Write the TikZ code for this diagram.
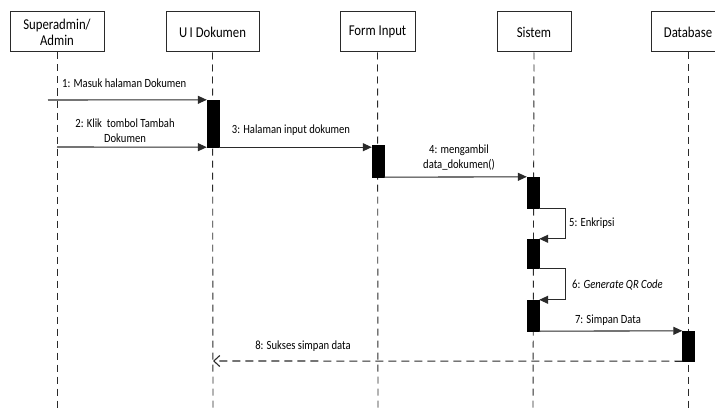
\documentclass[tikz,border=0pt]{standalone}
\usepackage{fontspec}
\setmainfont{Carlito}
\newfontfamily\cond[FakeStretch=0.85]{Carlito}
\usetikzlibrary{arrows.meta}
\definecolor{ln}{HTML}{2A2A2A}
\tikzset{
  obj/.style={draw=ln, line width=1pt, fill=white, minimum width=#1, minimum height=40pt, inner sep=0pt, font=\cond\fontsize{15}{16}\selectfont, align=center},
  life/.style={draw=ln, line width=0.9pt, dash pattern=on 7pt off 5pt},
  act/.style={draw=black, fill=black, minimum width=12pt, minimum height=#1, inner sep=0pt},
  msg/.style={draw=ln, line width=1.1pt, -{Triangle[length=9pt,width=8pt]}},
  ret/.style={draw=ln, line width=1.1pt, dash pattern=on 8pt off 5pt, -{Straight Barb[length=6pt,width=11pt]}},
  lbl/.style={font=\cond\fontsize{12.5}{14.5}\selectfont, inner sep=0pt, align=center},
}
\begin{document}
\begin{tikzpicture}[x=1pt,y=-1pt]
\useasboundingbox (0,0) rectangle (715,412);
\clip (0,0) rectangle (715,412);
% objects
\node[obj=94pt] (o1) at (57,32) {Superadmin/\\Admin};
\node[obj=93pt] (o2) at (212.5,32) {U\,I Dokumen};
\node[obj=75pt] (o3) at (377.5,32) {Form Input};
\node[obj=74pt] (o4) at (534,32) {Sistem};
\node[obj=74pt] (o5) at (688,32) {Database};
% lifeline ends
\coordinate (e1) at (57,412);
\coordinate (e2) at (213,412);
\coordinate (e3) at (378,412);
\coordinate (e4) at (533,412);
\coordinate (e5) at (688,412);
\draw[life] (o1.south) -- (e1);
\draw[life] (o2.south) -- (e2);
\draw[life] (o3.south) -- (e3);
\draw[life] (o4.south) -- (e4);
\draw[life] (o5.south) -- (e5);
% activations
\node[act=47pt] (aUI) at (213,123.5) {};
\node[act=32pt] (aFI) at (378,161) {};
\node[act=31pt] (aS1) at (533,192.5) {};
\node[act=29pt] (aS2) at (533,253.5) {};
\node[act=31pt] (aS3) at (533,315.5) {};
\node[act=30pt] (aDB) at (688.5,346) {};
% messages
\coordinate (m1s) at (48,100);
\coordinate (m2s) at (57,147);
\coordinate (m8e) at (213,361);
\draw[msg] (m1s) -- (aUI.north west);
\draw[msg] (m2s) -- (aUI.south west);
\draw[msg] (aUI.south east) -- (aUI.south east -| aFI.west);
\draw[msg] (aFI.south east) -- (aS1.north west);
\draw[msg] (aS1.south east) -- ++(26,0) |- (aS2.north east);
\draw[msg] (aS2.south east) -- ++(26,0) |- (aS3.north east);
\draw[msg] (aS3.south east) -- (aDB.north west);
\draw[ret] (aDB.south west) -- (m8e);
% labels
\node[lbl, anchor=west] (l1) at (62,83) {1: Masuk halaman Dokumen};
\node[lbl] (l2) at (125,130.5) {2: Klik\ \ tombol Tambah\\Dokumen};
\node[lbl] (l3) at (291,130) {3: Halaman input dokumen};
\node[lbl] (l4) at (459,157.5) {4: mengambil\\data\_dokumen()};
\node[lbl, anchor=west] (l5) at (569,223) {5: Enkripsi};
\node[lbl, anchor=west] (l6) at (572,285) {6: \textit{Generate QR Code}};
\node[lbl] (l7) at (608,320) {7: Simpan Data};
\node[lbl] (l8) at (303,346) {8: Sukses simpan data};
\end{tikzpicture}
\end{document}
